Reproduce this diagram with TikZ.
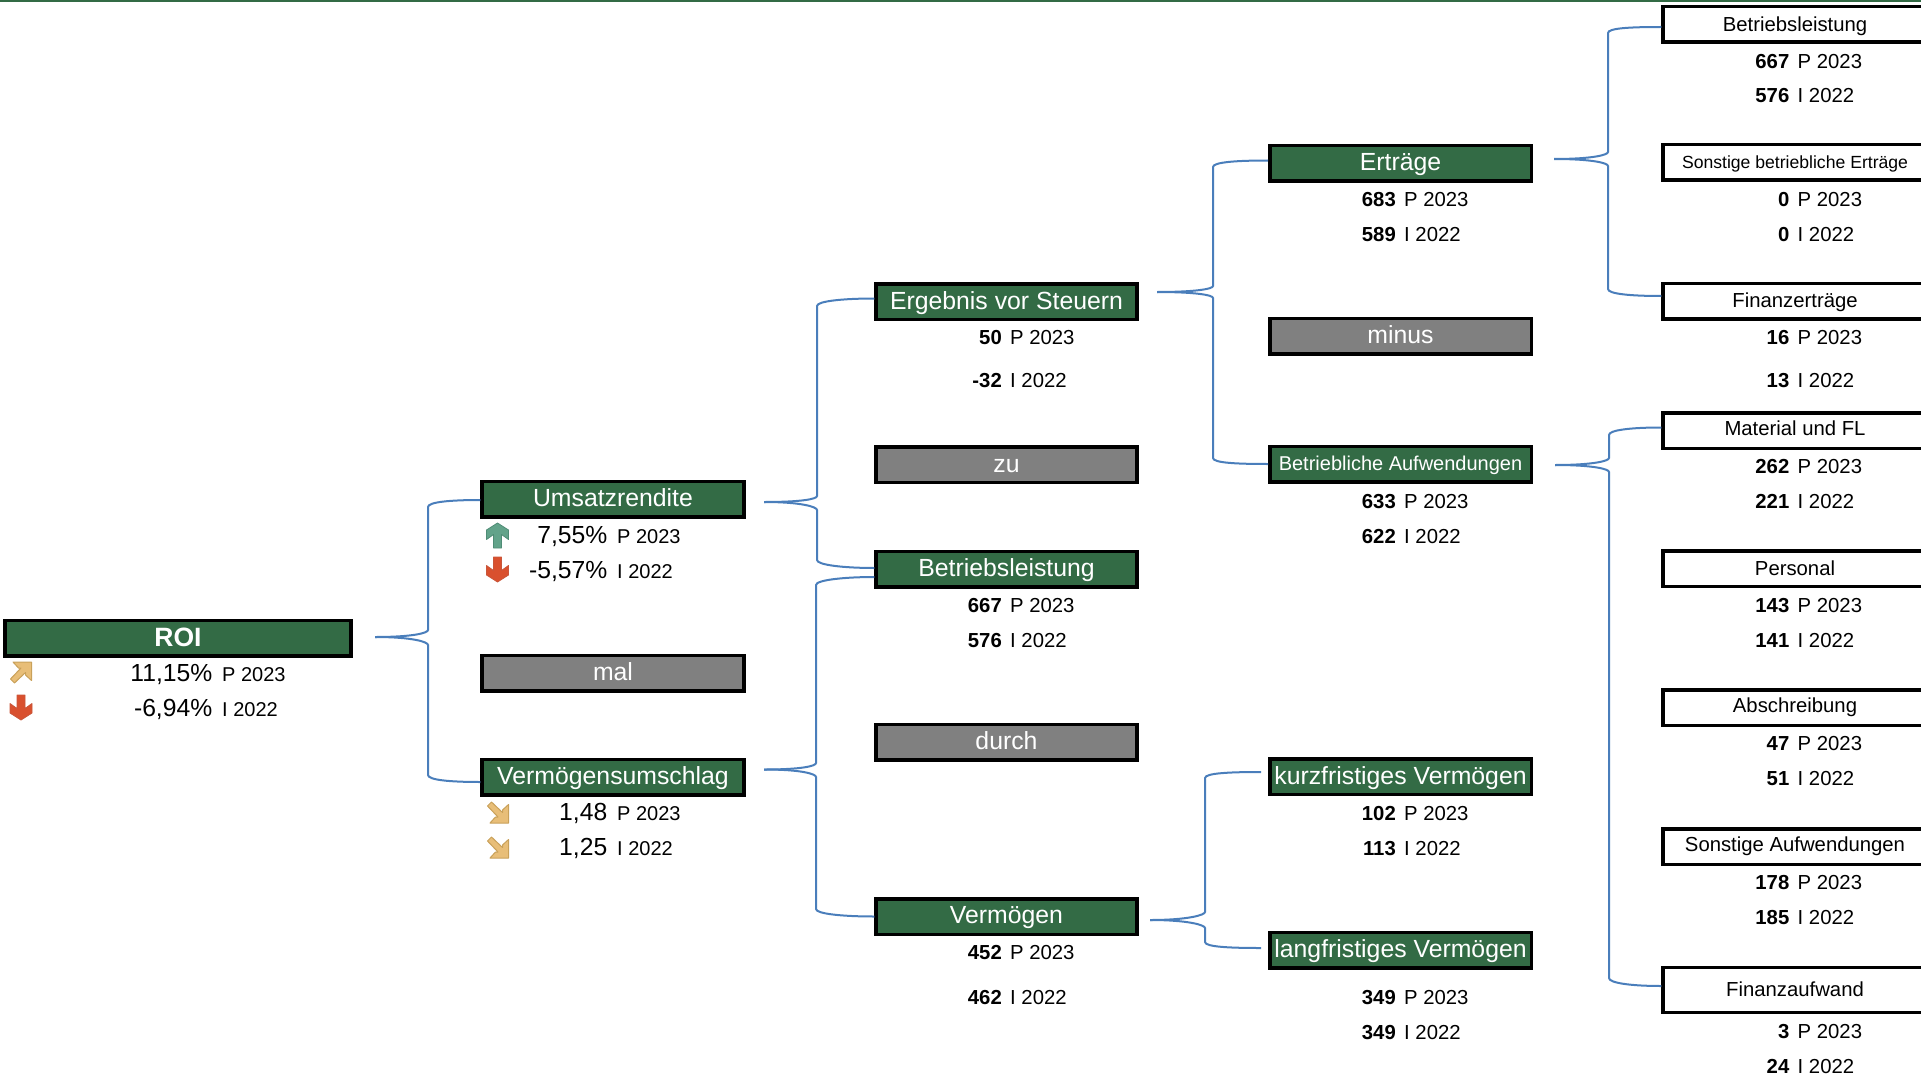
\documentclass[tikz,border=0pt]{standalone}
\usepackage{fontspec}
\setmainfont{Liberation Sans}
\usetikzlibrary{calc}
\definecolor{kgreen}{HTML}{336B45}
\definecolor{kgrey}{HTML}{808080}
\definecolor{kblue}{HTML}{4A7EBB}
\definecolor{kgold}{HTML}{E8BE78}
\definecolor{kgoldd}{HTML}{C9A15A}
\definecolor{kred}{HTML}{D9502E}
\definecolor{kredd}{HTML}{C9563A}
\definecolor{kteal}{HTML}{62A38A}
\definecolor{kteald}{HTML}{4F8C76}
\newcommand\fs[1]{\fontsize{#1}{#1}\selectfont}
\tikzset{
  kbox/.style={draw=black,line width=3.5pt,inner sep=0pt,minimum height=35.5pt,text height=17.5pt,text depth=2.5pt,font=\fs{24.8}},
  greenbox/.style={kbox,fill=kgreen,text=white},
  greybox/.style={kbox,fill=kgrey,text=white},
  whitebox/.style={kbox,fill=white,text=black,font=\fs{20.3},text height=15.7pt},
  colA/.style={minimum width=346pt},
  colB/.style={minimum width=262pt},
  colC/.style={minimum width=261pt},
  colD/.style={minimum width=261.5pt},
  colE/.style={minimum width=264pt},
  conn/.style={draw=kblue,line width=2pt},
  numtxt/.style={inner sep=0pt,anchor=base east},
  labtxt/.style={inner sep=0pt,anchor=base west}
}
% value row: x of number end, y of digit centre, number, label
\newcommand\valrow[5]{%
  \node[numtxt,yshift=-7.3pt,font=\fs{20.3}\bfseries] (#1n) at (#2,#3) {#4};
  \node[labtxt,yshift=-7.3pt,font=\fs{20.3}] (#1l) at (#2+8,#3) {#5};}
\newcommand\pctrow[5]{%
  \node[numtxt,yshift=-8.7pt,font=\fs{24.7}] (#1n) at (#2,#3) {#4};
  \node[labtxt,yshift=-8.7pt,font=\fs{20}] (#1l) at (#2+9.5,#3) {#5};}
% brace arm: source, bend x, y1, y2, sign, target node, offset
\newcommand\brk[7]{%
  \draw[conn] (#1) .. controls ($(#1)+(38,0)$) and (#2,{#3-(#5)*3}) .. (#2,#3)
    -- (#2,#4) .. controls (#2,{#4+(#5)*5}) and ($(#6.west)+(#7)+(-30,0)$) .. ($(#6.west)+(#7)$);}
% straight arrow icon: x, y, rotation, fill, draw
\newcommand\arw[5]{%
  \filldraw[fill=#4,draw=#5,line width=.8pt,line join=round,shift={(#1,#2)},rotate=#3]
    (-4,-12.5)--(4,-12.5)--(4,1)--(11,-4)--(11,5.5)--(0,12.5)--(-11,5.5)--(-11,-4)--(-4,1)--cycle;}
% diagonal gold arrow: x, y, vertical flip
\newcommand\garw[3]{%
  \filldraw[fill=kgold,draw=kgoldd,line width=1pt,line join=round,shift={(#1,#2)},yscale=#3]
    (-6.5,-10.5)--(4.5,0)--(4.5,-2.5)--(10.5,-8)--(10.5,10.5)--(-8,10.5)--(-2.5,4.5)--(0,4.5)--(-10.5,-6.5)--cycle;}
\begin{document}
\begin{tikzpicture}[x=1pt,y=-1pt]
\clip (0,0) rectangle (1921,1078);
\fill[kgreen] (0,0) rectangle (1921,2);

% boxes
\node[greenbox,colA,font=\fs{26.5}\bfseries,text height=19.5pt] (roi) at (178,638) {ROI};
\node[greenbox,colB] (um) at (613,499) {Umsatzrendite};
\node[greybox,colB] (mal) at (613,673) {mal};
\node[greenbox,colB] (vu) at (613,777) {Vermögensumschlag};
\node[greenbox,colC] (eb) at (1006.5,301.5) {Ergebnis vor Steuern};
\node[greybox,colC] (zu) at (1006.5,464.5) {zu};
\node[greenbox,colC] (bl) at (1006.5,569) {Betriebsleistung};
\node[greybox,colC] (du) at (1006.5,742) {durch};
\node[greenbox,colC,text height=16pt] (ve) at (1006.5,916.5) {Vermögen};
\node[greenbox,colD] (er) at (1400.5,163.5) {Erträge};
\node[greybox,colD] (mi) at (1400.5,336) {minus};
\node[greenbox,colD,font=\fs{20},text height=15.7pt] (ba) at (1400.5,464) {Betriebliche Aufwendungen};
\node[greenbox,colD] (kv) at (1400.5,776.5) {kurzfristiges Vermögen};
\node[greenbox,colD] (lv) at (1400.5,950) {langfristiges Vermögen};
\node[whitebox,colE] (e1) at (1795,24.5) {Betriebsleistung};
\node[whitebox,colE,font=\fs{17.6},text height=13.7pt] (e2) at (1795,162.5) {Sonstige betriebliche Erträge};
\node[whitebox,colE] (e3) at (1795,301) {Finanzerträge};
\node[whitebox,colE,text height=12pt] (a1) at (1795,430.5) {Material und FL};
\node[whitebox,colE] (a2) at (1795,568.5) {Personal};
\node[whitebox,colE,text height=13pt] (a3) at (1795,707.5) {Abschreibung};
\node[whitebox,colE,text height=13pt] (a4) at (1795,846.5) {Sonstige Aufwendungen};
\node[whitebox,colE,minimum height=45pt] (a5) at (1795,990) {Finanzaufwand};

% values
\pctrow{r1}{212.5}{673}{11,15\%}{P 2023}
\pctrow{r2}{212.5}{708}{-6,94\%}{I 2022}
\pctrow{u1}{607.5}{535}{7,55\%}{P 2023}
\pctrow{u2}{607.5}{570}{-5,57\%}{I 2022}
\pctrow{v1}{607.5}{812}{1,48}{P 2023}
\pctrow{v2}{607.5}{847}{1,25}{I 2022}
\valrow{c1}{1002}{337}{50}{P 2023}
\valrow{c2}{1002}{380}{-32}{I 2022}
\valrow{c3}{1002}{605}{667}{P 2023}
\valrow{c4}{1002}{640}{576}{I 2022}
\valrow{c5}{1002}{952}{452}{P 2023}
\valrow{c6}{1002}{997}{462}{I 2022}
\valrow{d1}{1396}{199}{683}{P 2023}
\valrow{d2}{1396}{234}{589}{I 2022}
\valrow{d3}{1396}{501}{633}{P 2023}
\valrow{d4}{1396}{536}{622}{I 2022}
\valrow{d5}{1396}{813}{102}{P 2023}
\valrow{d6}{1396}{848}{113}{I 2022}
\valrow{d7}{1396}{997}{349}{P 2023}
\valrow{d8}{1396}{1032}{349}{I 2022}
\valrow{f1}{1789.5}{61.5}{667}{P 2023}
\valrow{f2}{1789.5}{95}{576}{I 2022}
\valrow{f3}{1789.5}{199}{0}{P 2023}
\valrow{f4}{1789.5}{234}{0}{I 2022}
\valrow{f5}{1789.5}{337}{16}{P 2023}
\valrow{f6}{1789.5}{380}{13}{I 2022}
\valrow{g1}{1789.5}{466}{262}{P 2023}
\valrow{g2}{1789.5}{501}{221}{I 2022}
\valrow{g3}{1789.5}{605}{143}{P 2023}
\valrow{g4}{1789.5}{640}{141}{I 2022}
\valrow{g5}{1789.5}{743.5}{47}{P 2023}
\valrow{g6}{1789.5}{778}{51}{I 2022}
\valrow{g7}{1789.5}{882.5}{178}{P 2023}
\valrow{g8}{1789.5}{917}{185}{I 2022}
\valrow{g9}{1789.5}{1031}{3}{P 2023}
\valrow{g0}{1789.5}{1066}{24}{I 2022}

% icons
\garw{21}{672.5}{-1}
\arw{21}{707.5}{0}{kred}{kredd}
\arw{497.5}{535.5}{180}{kteal}{kteald}
\arw{497.5}{569.5}{0}{kred}{kredd}
\garw{498}{812.5}{1}
\garw{498}{847.5}{1}

% connector origins
\coordinate (roiout) at (375,637);
\coordinate (umout) at (764,502);
\coordinate (vuout) at (764,769.5);
\coordinate (ebout) at (1157,292);
\coordinate (veout) at (1150,920);
\coordinate (erout) at (1554,159);
\coordinate (baout) at (1555,465);

% connectors
\brk{roiout}{428}{630}{507}{-1}{um}{0,1}
\brk{roiout}{428}{645}{775}{1}{vu}{0,5}
\brk{umout}{817}{496}{306}{-1}{eb}{0,-3}
\brk{umout}{817}{510}{560}{1}{bl}{0,-1}
\brk{vuout}{816}{763}{585}{-1}{bl}{0,8}
\brk{vuout}{816}{777}{909}{1}{ve}{0,0}
\brk{ebout}{1213}{286}{167}{-1}{er}{0,-3}
\brk{ebout}{1213}{298}{458}{1}{ba}{0,0}
\brk{veout}{1205}{912}{778}{-1}{kv}{-7,-4.5}
\brk{veout}{1205}{928}{942}{1}{lv}{-7,-2}
\brk{erout}{1608}{152}{33}{-1}{e1}{0,2.5}
\brk{erout}{1608}{166}{289}{1}{e3}{0,-5}
\brk{baout}{1609}{458}{435}{-1}{a1}{0,-3}
\brk{baout}{1609}{472}{978}{1}{a5}{0,-4}
\end{tikzpicture}
\end{document}
